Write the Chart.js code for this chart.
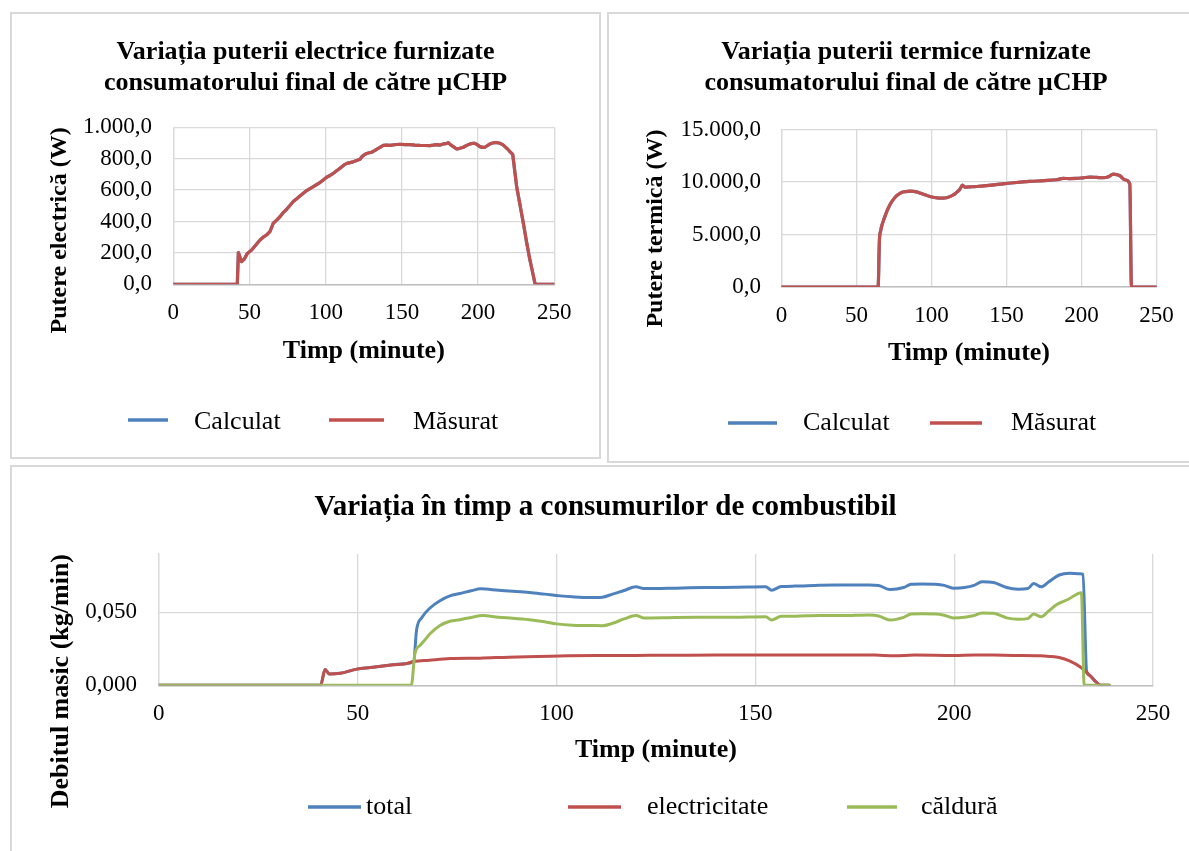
<!DOCTYPE html>
<html lang="ro">
<head>
<meta charset="utf-8">
<title>µCHP – puteri și consumuri</title>
<script src="https://cdn.jsdelivr.net/npm/chart.js@4.4.1/dist/chart.umd.min.js"></script>
<style>
  html, body { margin: 0; padding: 0; background: #fff; overflow: hidden; }
  .box { position: absolute; border: 2px solid #d9d9d9; background: #fff; }
  .box canvas { display: block; }
  #boxElectric { left: 10px; top: 12px; width: 587px; height: 443px; }
  #boxTermic { left: 607px; top: 12px; width: 594px; height: 447px; }
  #boxCombustibil { left: 10px; top: 465px; width: 1187px; height: 400px; }
</style>
</head>
<body>
<div class="box" id="boxElectric"><canvas id="graficElectric" width="587" height="443"></canvas></div>
<div class="box" id="boxTermic"><canvas id="graficTermic" width="594" height="447"></canvas></div>
<div class="box" id="boxCombustibil"><canvas id="graficCombustibil" width="1187" height="400"></canvas></div>

<script>
// --- putere electrica (W) ---
const timpElectric = [0, 42, 42.7, 44.8, 46.5, 48.6, 51.4, 54.7, 56.9, 59,
  61.2, 63.4, 65.6, 68, 70, 72, 74.4, 76.5, 78.7, 81,
  83.1, 85.3, 87.5, 89.7, 91.9, 94, 96.2, 98.4, 100.6, 102.8,
  105, 107.2, 109.4, 111, 112.6, 114, 115.9, 118, 120.3, 122.5,
  124, 125.8, 128, 130.1, 131.8, 133.4, 135.6, 137.8, 140, 142.2,
  145, 148.7, 152, 155.3, 158.5, 161.9, 165, 168.4, 170.5, 172.8,
  175, 177.2, 179, 180.4, 182, 183.7, 185.9, 188, 190.3, 192.5,
  194.7, 196.3, 197.9, 199.6, 201.2, 202.8, 204.5, 206.2, 207.8, 209.5,
  211, 212.7, 214.3, 216, 217.6, 219.3, 220.9, 222.7, 225.3, 227.5,
  229.7, 231.8, 234, 235.7, 237.3, 238.4, 250];
const electricMasurat = [0, 0, 202, 144, 160, 197, 219, 257, 282, 300,
  314, 335, 389, 410, 431, 455, 478, 502, 527, 545,
  563, 580, 597, 610, 622, 635, 648, 665, 682, 693,
  707, 723, 739, 752, 764, 770, 775, 780, 788, 796,
  815, 828, 836, 841, 850, 860, 872, 885, 887, 885,
  889, 892, 890, 890, 887, 885, 884, 883, 886, 890,
  887, 894, 896, 902, 888, 877, 862, 866, 873, 885,
  894, 897, 898, 888, 877, 872, 873, 884, 894, 900,
  902, 902, 898, 890, 877, 862, 845, 828, 622, 505,
  389, 270, 155, 80, 6, 0, 0];
// modelul se suprapune peste masuratori
const electricCalculat = electricMasurat.slice();

// --- putere termica (W) ---
const timpTermic = [0, 64.4, 65.3, 66.2, 66.7, 67.8, 68.9, 70.5, 72.2, 73.9,
  75.6, 77.8, 80, 82.8, 85.6, 87.8, 90, 92.8, 95.6, 98.3,
  101.1, 103.9, 106.7, 108.9, 111.1, 113.3, 115.6, 117.3, 118.9, 120.7,
  122.2, 126, 130, 140, 147.8, 155, 165.6, 175, 183.3, 187.8,
  192, 196.7, 201, 205.6, 210, 214.4, 218, 221.1, 223.5, 225.6,
  228.9, 232.2, 233.3, 250];
const termicMasurat = [0, 0, 4500, 5400, 5745, 6250, 6702, 7300, 7819, 8200,
  8521, 8800, 9000, 9090, 9128, 9110, 9064, 8930, 8777, 8650,
  8553, 8480, 8457, 8480, 8553, 8680, 8872, 9080, 9319, 9702,
  9511, 9540, 9574, 9700, 9830, 9930, 10053, 10130, 10213, 10340,
  10330, 10340, 10400, 10468, 10440, 10404, 10500, 10755, 10700, 10596,
  10213, 9830, 0, 0];
const termicCalculat = termicMasurat.slice();

// --- consum de combustibil (kg/min) ---
const timpTotal = [0, 40.7, 41.8, 42.9, 45.6, 49.8, 53.2, 57.4, 62.4, 64.1,
  64.8, 66.2, 68.2, 70.7, 73.2, 75.7, 78.5, 81, 85.4, 89,
  93.2, 97, 101, 104, 108.3, 111.5, 114.1, 117, 120, 121.9,
  130, 137.3, 145, 152.6, 154.1, 156.5, 160, 166.1, 172, 178.6,
  181, 183.9, 187.3, 189.2, 192, 195.4, 197.5, 199.8, 202.6, 205,
  207, 209.9, 213.2, 216.1, 218.5, 220, 221.9, 223.8, 226.4, 229,
  231.6, 232.4, 233.3, 234, 235.6, 236.9, 239];
const consumTotal = [0, 0, 0.0109, 0.0077, 0.0082, 0.0111, 0.0122, 0.0136, 0.015, 0.0163,
  0.0376, 0.0466, 0.053, 0.058, 0.0613, 0.0629, 0.0648, 0.0661, 0.0652, 0.0645,
  0.0636, 0.0625, 0.0613, 0.0607, 0.0602, 0.0604, 0.0625, 0.065, 0.0675, 0.0663,
  0.0666, 0.067, 0.0672, 0.0675, 0.0652, 0.0677, 0.068, 0.0686, 0.0687, 0.0688,
  0.0684, 0.0656, 0.067, 0.0693, 0.0695, 0.0693, 0.0685, 0.0666, 0.067, 0.0685,
  0.0709, 0.0704, 0.067, 0.0659, 0.0663, 0.0697, 0.0675, 0.071, 0.0756, 0.0768,
  0.0765, 0.0762, 0.0095, 0.007, 0.0025, 0, 0];

const timpElectricitate = [0, 40.7, 41.8, 42.9, 45.6, 49.8, 53.2, 57.4, 62.4, 64.1,
  68, 73.3, 80.8, 88, 95.4, 103, 111.8, 120, 130, 140,
  150, 160, 170, 180, 185, 190, 200, 205, 210, 215,
  221.6, 224, 226.4, 229, 231.9, 234, 235.6, 236.9, 239];
const consumElectricitate = [0, 0, 0.0109, 0.0077, 0.0082, 0.0111, 0.0122, 0.0136, 0.015, 0.0163,
  0.0172, 0.0183, 0.0186, 0.0193, 0.0197, 0.0202, 0.0204, 0.0205, 0.0206, 0.0207,
  0.0207, 0.0207, 0.0208, 0.0207, 0.0203, 0.0207, 0.0204, 0.0208, 0.0207, 0.0205,
  0.0203, 0.0198, 0.019, 0.0167, 0.0122, 0.007, 0.0025, 0, 0];

const timpCaldura = [0, 63.5, 64.4, 65.7, 66.9, 68.2, 70.7, 73.2, 75.7, 78.5,
  81.5, 85.4, 89, 93.2, 97, 100, 104, 108.3, 111.5, 114.1,
  117, 120, 121.9, 130, 137.3, 145, 152.6, 154.1, 156.5, 160,
  166.1, 172, 178.6, 181, 183.9, 187.3, 189.2, 192, 195.4, 197.5,
  199.8, 202.6, 205, 207, 209.9, 213.2, 216.1, 218.5, 220, 221.9,
  223.8, 225.7, 228.6, 232, 232.7, 239];
const consumCaldura = [0, 0, 0.0217, 0.0274, 0.031, 0.0353, 0.041, 0.0439, 0.045, 0.0465,
  0.0478, 0.0466, 0.046, 0.045, 0.0436, 0.0421, 0.0412, 0.041, 0.0408, 0.0425,
  0.0455, 0.0478, 0.0462, 0.0465, 0.0466, 0.0467, 0.047, 0.0448, 0.0473, 0.0474,
  0.0478, 0.0478, 0.0482, 0.0475, 0.0448, 0.0466, 0.0489, 0.049, 0.0489, 0.048,
  0.0462, 0.0466, 0.0478, 0.0496, 0.0494, 0.0462, 0.0453, 0.0457, 0.0489, 0.047,
  0.051, 0.0552, 0.0588, 0.0635, 0, 0];

const ALBASTRU = '#4f81bd';
const ROSU = '#c0504d';
const VERDE = '#9bbb59';
const GRILA = '#d9d9d9';
const AXA = '#bfbfbf';
const FONT = "'Liberation Serif', 'Times New Roman', serif";

Chart.defaults.font.family = FONT;
Chart.defaults.color = '#000';

// 1234.5 -> "1.234,5"
function formatRo(valoare, zecimale) {
  const [intreg, frac] = Math.abs(valoare).toFixed(zecimale).split('.');
  const grupat = intreg.replace(/\B(?=(\d{3})+(?!\d))/g, '.');
  return (valoare < 0 ? '-' : '') + grupat + (frac ? ',' + frac : '');
}

function serie(label, timp, valori, culoare, ordine, grosime, neted) {
  return {
    label: label,
    data: timp.map((t, i) => ({ x: t, y: valori[i] })),
    borderColor: culoare,
    backgroundColor: culoare,
    borderWidth: grosime,
    borderJoinStyle: 'round',
    borderCapStyle: 'round',
    cubicInterpolationMode: neted ? 'monotone' : 'default',
    pointRadius: 0,
    tension: 0,
    fill: false,
    order: ordine
  };
}

// legenda in stil Excel: fiecare intrare are linia si textul asezate separat
const legendaExcel = {
  id: 'legendaExcel',
  afterDraw(chart, args, opts) {
    const ctx = chart.ctx;
    ctx.save();
    ctx.font = '26px ' + FONT;
    ctx.textBaseline = 'alphabetic';
    ctx.textAlign = 'left';
    ctx.lineWidth = 3.5;
    chart.data.datasets.forEach((ds, i) => {
      const e = opts.intrari[i];
      ctx.strokeStyle = ds.borderColor;
      ctx.beginPath();
      ctx.moveTo(e.linie[0], opts.yLinie);
      ctx.lineTo(e.linie[1], opts.yLinie);
      ctx.stroke();
      ctx.fillStyle = '#000';
      ctx.fillText(ds.label, e.text, opts.yText);
    });
    ctx.restore();
  }
};

function creeazaGrafic(id, c) {
  return new Chart(document.getElementById(id), {
    type: 'line',
    data: { datasets: c.datasets },
    plugins: [legendaExcel],
    options: {
      responsive: false,
      animation: false,
      events: [],
      layout: { padding: c.padding },
      plugins: {
        title: {
          display: true,
          text: c.titlu,
          color: '#000',
          font: { size: c.titluFont, weight: 'bold' },
          padding: c.titluPadding
        },
        legend: { display: false },
        tooltip: { enabled: false },
        legendaExcel: c.legenda
      },
      scales: {
        x: {
          type: 'linear',
          min: 0,
          max: 250,
          ticks: { stepSize: 50, padding: c.xTickPad, font: { size: 23 }, maxRotation: 0, autoSkip: false },
          grid: { color: GRILA, lineWidth: 1.3, drawTicks: false },
          border: { color: AXA, width: 1.5 },
          title: {
            display: true,
            text: 'Timp (minute)',
            font: { size: 26, weight: 'bold' },
            padding: { top: 0, bottom: 0 }
          },
          afterFit: (s) => { s.height = c.xInaltime; }
        },
        y: {
          min: 0,
          max: c.yMax,
          ticks: {
            stepSize: c.yPas,
            padding: c.yTickPad,
            font: { size: 23 },
            autoSkip: false,
            callback: (v) => formatRo(v, c.zecimale)
          },
          grid: { color: GRILA, lineWidth: 1.3, drawTicks: false },
          border: { color: GRILA, width: 1.3 },
          title: {
            display: true,
            text: c.yTitlu,
            align: 'end',
            font: { size: c.yTitluFont, weight: 'bold' },
            padding: { top: c.yTitluPad, bottom: 0 }
          },
          afterBuildTicks: (s) => {
            s.ticks = s.ticks.filter((t) => t.value <= c.yUltimaEticheta + 1e-9);
          },
          afterFit: (s) => { s.width = c.yLatime; }
        }
      }
    }
  });
}

creeazaGrafic('graficElectric', {
  datasets: [
    serie('Calculat', timpElectric, electricCalculat, ALBASTRU, 2, 3.2, false),
    serie('Măsurat', timpElectric, electricMasurat, ROSU, 1, 3.2, false)
  ],
  titlu: ['Variația puterii electrice furnizate', 'consumatorului final de către µCHP'],
  titluFont: 26,
  titluPadding: { top: 18.4, bottom: 28.5 },
  padding: { left: 44.7, right: 44.7, top: 4, bottom: 90.4 },
  legenda: {
    yLinie: 406, yText: 415,
    intrari: [{ linie: [116, 156], text: 182 }, { linie: [317, 372], text: 401 }]
  },
  xInaltime: 82.3, xTickPad: 14.9,
  yMax: 1000, yPas: 200, yUltimaEticheta: 1000, zecimale: 1,
  yTitlu: 'Putere electrică (W)', yTitluFont: 24, yTitluPad: -11.1,
  yLatime: 116.6, yTickPad: 21.3
});

creeazaGrafic('graficTermic', {
  datasets: [
    serie('Calculat', timpTermic, termicCalculat, ALBASTRU, 2, 3.2, true),
    serie('Măsurat', timpTermic, termicMasurat, ROSU, 1, 3.2, true)
  ],
  titlu: ['Variația puterii termice furnizate', 'consumatorului final de către µCHP'],
  titluFont: 26,
  titluPadding: { top: 18.4, bottom: 30.7 },
  padding: { left: 46.5, right: 46.5, top: 4, bottom: 92.4 },
  legenda: {
    yLinie: 409, yText: 416,
    intrari: [{ linie: [119, 168], text: 194 }, { linie: [321, 373], text: 402 }]
  },
  xInaltime: 81.6, xTickPad: 15.2,
  yMax: 15000, yPas: 5000, yUltimaEticheta: 15000, zecimale: 1,
  yTitlu: 'Putere termică (W)', yTitluFont: 24, yTitluPad: -13.9,
  yLatime: 126, yTickPad: 20.5
});

creeazaGrafic('graficCombustibil', {
  datasets: [
    serie('total', timpTotal, consumTotal, ALBASTRU, 3, 3, true),
    serie('electricitate', timpElectricitate, consumElectricitate, ROSU, 2, 3, true),
    serie('căldură', timpCaldura, consumCaldura, VERDE, 1, 3, true)
  ],
  titlu: 'Variația în timp a consumurilor de combustibil',
  titluFont: 29,
  titluPadding: { top: 19.6, bottom: 28.6 },
  padding: { left: 46, right: 46, top: 4, bottom: 101.4 },
  legenda: {
    yLinie: 340, yText: 347,
    intrari: [{ linie: [296, 349], text: 354 }, { linie: [556, 609], text: 635 }, { linie: [835, 885], text: 909 }]
  },
  xInaltime: 80.3, xTickPad: 14.9,
  yMax: 0.09, yPas: 0.05, yUltimaEticheta: 0.05, zecimale: 3,
  yTitlu: 'Debitul masic (kg/min)', yTitluFont: 26, yTitluPad: -12.6,
  yLatime: 100.8, yTickPad: 21.8
});
</script>
</body>
</html>
